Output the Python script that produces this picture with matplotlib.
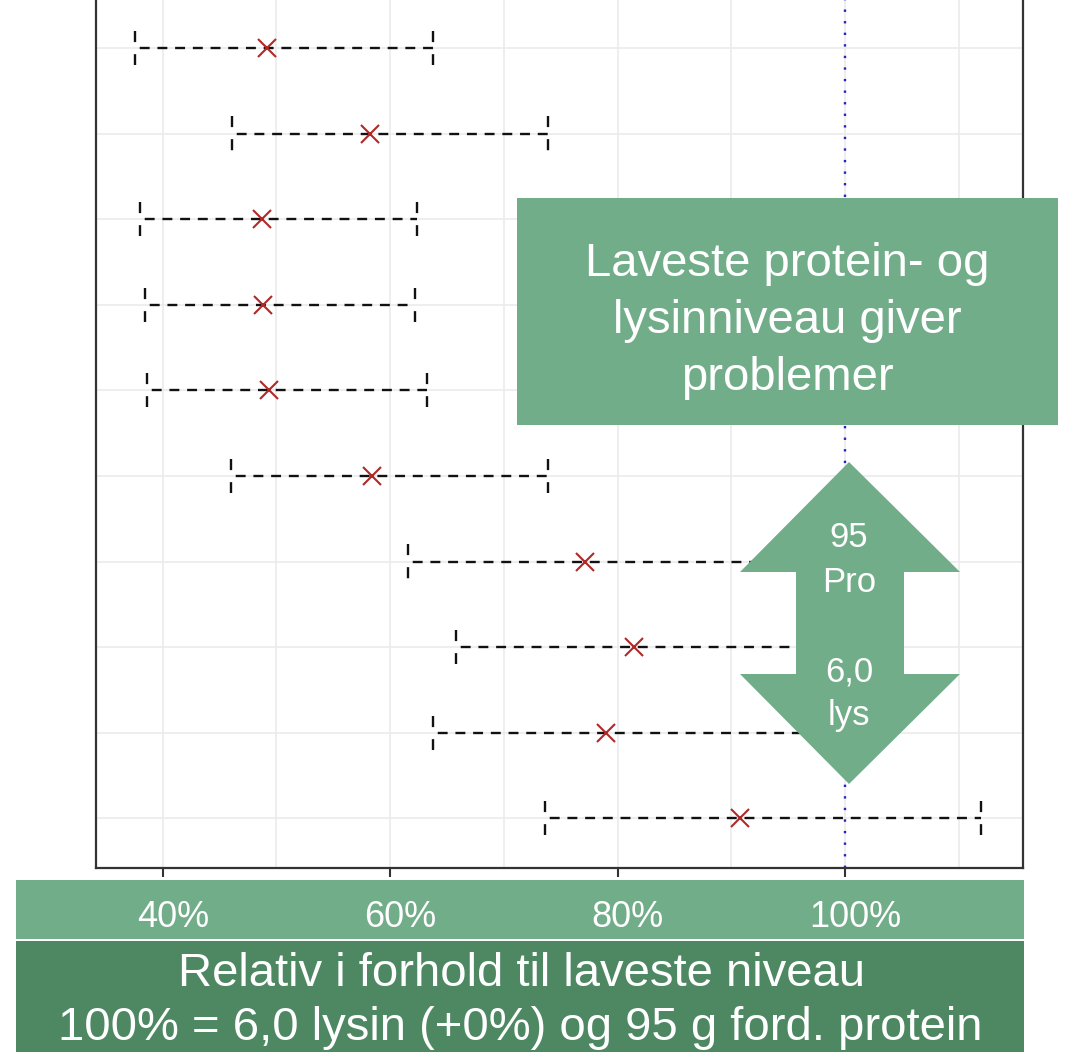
import numpy as np
import matplotlib.pyplot as plt
from matplotlib.patches import Polygon, Rectangle
from matplotlib import transforms

plt.rcParams['font.family'] = ['Liberation Sans', 'DejaVu Sans']

# interval per row: lower limit, estimate, upper limit (% of lowest level)
rows = np.arange(1, 11)
lower = [37.6, 46.1, 38.0, 38.4, 38.6, 46.0, 61.6, 65.8, 63.8, 73.6]
estimate = [49.2, 58.2, 48.7, 48.8, 49.3, 58.4, 77.1, 81.4, 79.0, 90.8]
upper = [63.8, 73.9, 62.4, 62.2, 63.2, 73.9, 97.0, 101.0, 98.5, 112.0]
ref_level = 100

xticks = [40, 60, 80, 100]
xtick_labels = ['40%', '60%', '80%', '100%']
minor_xticks = [50, 70, 90, 110]

note_lines = ['Laveste protein- og', 'lysinniveau giver', 'problemer']
arrow_lines = ['95', 'Pro', '6,0', 'lys']
caption_lines = ['Relativ i forhold til laveste niveau',
                 '100% = 6,0 lysin (+0%) og 95 g ford. protein']

light_green = '#72AD89'
dark_green = '#4E8863'

W, H = 1076, 1052
fig = plt.figure(figsize=(W / 100, H / 100), dpi=100)


def fx(px):
    return px / W


def fy(py):
    return 1 - py / H


ax = fig.add_axes([fx(96), fy(868), fx(1023) - fx(96), 1 - fy(868)])
ax.set_xlim(34.13, 115.65)
ax.set_ylim(10.58, 0.44)

ax.set_xticks(xticks)
ax.set_xticklabels(xtick_labels)
ax.set_xticks(minor_xticks, minor=True)
ax.set_yticks(rows)
ax.set_yticklabels([])
ax.set_axisbelow(True)
ax.grid(which='both', color='#EBEBEB', lw=1.2)
ax.tick_params(axis='x', which='major', length=6.5, width=1.5, color='#333333',
               labelcolor='white', labelsize=26, pad=16.2)
ax.tick_params(axis='x', which='minor', length=0)
ax.tick_params(axis='y', length=0)
for side in ['left', 'bottom', 'right']:
    ax.spines[side].set_color('#333333')
    ax.spines[side].set_linewidth(1.6)
ax.spines['top'].set_visible(False)

shift = transforms.ScaledTranslation(0.10, 0, fig.dpi_scale_trans)
for lab in ax.get_xticklabels():
    lab.set_transform(lab.get_transform() + shift)

# dashed intervals with dashed end caps
rows_arr = np.array(rows, dtype=float)
ax.hlines(rows_arr, lower, upper, colors='#111111', lw=1.7,
          linestyles=[(5.5, (4.2, 3.3))], zorder=3)
for ends in (lower, upper):
    ax.vlines(ends, rows_arr - 0.2, rows_arr + 0.2, colors='#111111', lw=1.7,
              linestyles=[(0, (4.7, 5.1))], zorder=3)
ax.plot(estimate, rows_arr, ls='none', marker='x', color='#B02828',
        ms=13, mew=1.5, zorder=4)
ax.axvline(ref_level, color='#2424B8', lw=1.7, ls=(0, (1, 3.9)), zorder=2.5)

# x label bands under the plot
fig.add_artist(Rectangle((fx(16), fy(939)), fx(1024) - fx(16), fy(880) - fy(939),
                         transform=fig.transFigure, fc=light_green, ec='none', zorder=-1))
fig.add_artist(Rectangle((fx(16), 0), fx(1024) - fx(16), fy(941),
                         transform=fig.transFigure, fc=dark_green, ec='none', zorder=-1))
for line, (cx, base) in zip(caption_lines, [(522, 986), (520, 1040)]):
    fig.text(fx(cx), fy(base), line, ha='center', va='baseline',
             color='white', fontsize=34)

# note box
fig.add_artist(Rectangle((fx(517), fy(425)), fx(1058) - fx(517), fy(198) - fy(425),
                         transform=fig.transFigure, fc=light_green, ec='none', zorder=5))
for i, line in enumerate(note_lines):
    fig.text(fx(787), fy(276 + 57 * i), line, ha='center', va='baseline',
             color='white', fontsize=34, zorder=6)

# double arrow over the reference line
arrow_px = [(849, 462), (960, 572), (904, 572), (904, 674), (960, 674),
            (849, 784), (740, 674), (796, 674), (796, 572), (740, 572)]
fig.add_artist(Polygon([(fx(x), fy(y)) for x, y in arrow_px], closed=True,
                       transform=fig.transFigure, fc=light_green, ec='none', zorder=5))
for line, base in zip(arrow_lines, [547, 592, 681, 725]):
    fig.text(fx(849), fy(base), line, ha='center', va='baseline',
             color='white', fontsize=25, zorder=6)

fig.savefig('out.png', dpi=100)
